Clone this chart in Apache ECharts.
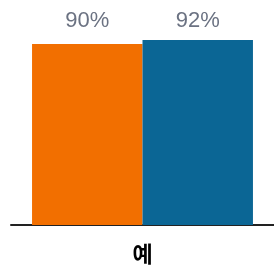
<!DOCTYPE html>
<html>
<head>
<meta charset="utf-8" />
<script src="https://cdn.jsdelivr.net/npm/echarts@6/dist/echarts.min.js"></script>
</head>
<body style="margin:0">
<div id="main" style="width:274px;height:268px;"></div>
<script>
var categories = ['예'];
var seriesA = [90];
var seriesB = [92];
var yMax = 100;

var chart = echarts.init(document.getElementById('main'));
var labelStyle = {
    show: true,
    position: 'top',
    distance: 12,
    formatter: '{c}%',
    color: '#6b7282',
    fontSize: 22,
    fontFamily: 'Liberation Sans'
};
var option = {
    animation: false,
    grid: { left: 11, right: 0, top: 24, bottom: 43 },
    xAxis: {
        type: 'category',
        data: categories,
        axisTick: { show: false },
        axisLine: { lineStyle: { color: '#222', width: 2 } },
        axisLabel: { color: '#000', fontSize: 22, fontWeight: 'bold', margin: 18, fontFamily: 'Noto Sans CJK KR' }
    },
    yAxis: { type: 'value', min: 0, max: yMax, show: false },
    series: [
        { type: 'bar', data: seriesA, barGap: '0%', barCategoryGap: '16%', itemStyle: { color: '#f26f00' }, label: labelStyle },
        { type: 'bar', data: seriesB, itemStyle: { color: '#0b6695' }, label: labelStyle }
    ]
};
chart.setOption(option);

// all value labels sit on one line, a little under the top of the scale
var labelLine = chart.convertToPixel({ yAxisIndex: 0 }, yMax) + 8;
function withLabels(values) {
    return values.map(function (v) {
        var top = chart.convertToPixel({ yAxisIndex: 0 }, v);
        return { value: v, label: { distance: top - labelLine } };
    });
}
chart.setOption({ series: [{ data: withLabels(seriesA) }, { data: withLabels(seriesB) }] });
</script>
</body>
</html>
